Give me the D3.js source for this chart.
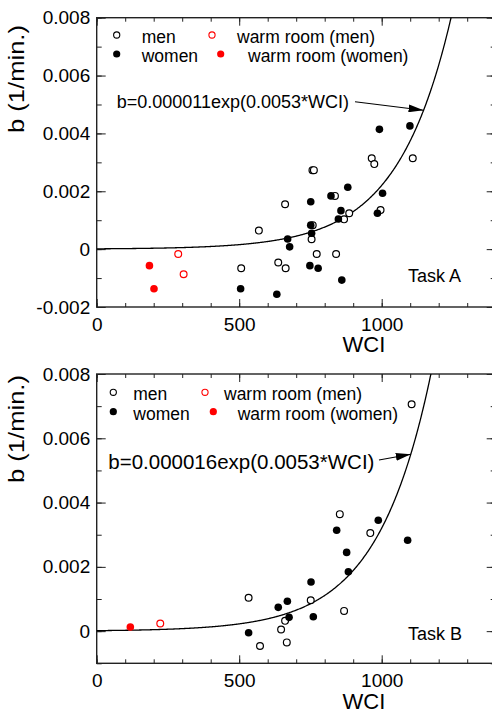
<!DOCTYPE html>
<html><head><meta charset="utf-8">
<script src="https://cdn.jsdelivr.net/npm/d3@7"></script>
<style>
body{margin:0;background:#fff}
svg{display:block}
text{font-family:"Liberation Sans",Arial,Helvetica,sans-serif;fill:#000}
</style>
</head><body>
<svg id="c" width="492" height="711"></svg>
<script>
// ---------- data ----------
const xMajorTicks = [0, 500, 1000];
const xTickLabels = ["0", "500", "1000"];
const yMajorTicksA = [-0.002, 0, 0.002, 0.004, 0.006, 0.008];
const yTickLabelsA = ["-0.002", "0", "0.002", "0.004", "0.006", "0.008"];
const yMajorTicksB = [0, 0.002, 0.004, 0.006, 0.008];
const yTickLabelsB = ["0", "0.002", "0.004", "0.006", "0.008"];

const legendLabels = ["men", "women", "warm room (men)", "warm room (women)"];

const taskA_men = [[569,0.00064],[507,-0.00066],[637,-0.00046],[663,-0.00066],[757,0.00273],[762,0.00273],
  [661,0.00155],[836,0.00184],[868,0.00103],[886,0.00124],[758,0.00083],[754,0.00034],[772,-0.00017],
  [840,-0.00017],[965,0.00314],[974,0.00294],[1109,0.00314],[996,0.00135]];
const taskA_women = [[505,-0.00137],[632,-0.00156],[670,0.00035],[677,0.00008],[751,0.00164],[822,0.00184],
  [881,0.00214],[857,0.00133],[848,0.00104],[751,0.00083],[754,0.00055],[748,-0.00057],[777,-0.00066],
  [860,-0.00107],[992,0.00414],[1099,0.00426],[1003,0.00193],[985,0.00124]];
const taskA_warmMen = [[286,-0.00017],[305,-0.00087]];
const taskA_warmWomen = [[185,-0.00057],[201,-0.00137]];

const taskB_men = [[533,0.00104],[573,-0.00046],[661,0.00032],[647,0.00005],[667,-0.00035],[751,0.00096],
  [868,0.00063],[853,0.00364],[960,0.00305],[1105,0.00706]];
const taskB_women = [[533,-0.00005],[637,0.00074],[669,0.00093],[675,0.00043],[752,0.00153],[760,0.00045],
  [883,0.00185],[877,0.00245],[842,0.00314],[988,0.00345],[1091,0.00283]];
const taskB_warmMen = [[223,0.00024]];
const taskB_warmWomen = [[118,0.00013]];

// fitted model b = a*exp(k*WCI)
const fitA = {a: 0.000011, k: 0.0053, label: "b=0.000011exp(0.0053*WCI)", task: "Task A", arrowWCI: 1147};
const fitB = {a: 0.000016, k: 0.0053, label: "b=0.000016exp(0.0053*WCI)", task: "Task B", arrowWCI: 1102};

// ---------- drawing ----------
const svg = d3.select("#c");
const FONT = '"Liberation Sans",Arial,Helvetica,sans-serif';
const RED = "#ff0000";
svg.append("defs").append("marker")
  .attr("id","ah").attr("viewBox","0 0 10 10").attr("refX",10).attr("refY",5)
  .attr("markerWidth",15).attr("markerHeight",8).attr("markerUnits","userSpaceOnUse")
  .attr("orient","auto").attr("preserveAspectRatio","none")
  .append("path").attr("d","M0,0L10,5L0,10Z").attr("fill","#000");

function panel(cfg) {
  const x = d3.scaleLinear().domain([0, 1400]).range([96.7, 495.7]);
  const y = d3.scaleLinear().domain(cfg.yDomain).range([cfg.bottom, cfg.top]);
  const g = svg.append("g");
  const id = "clip" + cfg.id;
  svg.select("defs").append("clipPath").attr("id", id)
    .append("rect").attr("x", x(0)).attr("y", cfg.top).attr("width", x(1400) - x(0)).attr("height", cfg.bottom - cfg.top);

  const styleAxis = sel => {
    sel.select(".domain").remove();
    sel.selectAll("line").attr("stroke", "#222").attr("stroke-width", 1);
    sel.selectAll("text").attr("font-size", 19).attr("font-family", FONT).attr("fill", "#000");
  };
  const xMinor = d3.range(0, 1401, 100);
  const yMinor = d3.range(cfg.yDomain[0], cfg.yDomain[1] + 1e-9, 0.001);

  // bottom
  g.append("g").attr("transform", `translate(0,${cfg.bottom})`)
    .call(d3.axisBottom(x).tickValues(xMinor).tickSize(-4).tickFormat("")).call(styleAxis);
  g.append("g").attr("transform", `translate(0,${cfg.bottom})`)
    .call(d3.axisBottom(x).tickValues(xMajorTicks).tickSize(-8).tickPadding(cfg.xPad)
      .tickFormat((d, i) => xTickLabels[i])).call(styleAxis);
  // top
  g.append("g").attr("transform", `translate(0,${cfg.top})`)
    .call(d3.axisTop(x).tickValues(xMinor).tickSize(-4).tickFormat("")).call(styleAxis);
  g.append("g").attr("transform", `translate(0,${cfg.top})`)
    .call(d3.axisTop(x).tickValues(xMajorTicks).tickSize(-8).tickFormat("")).call(styleAxis);
  // left
  g.append("g").attr("transform", `translate(${x(0)},0)`)
    .call(d3.axisLeft(y).tickValues(yMinor).tickSize(-5).tickFormat("")).call(styleAxis);
  g.append("g").attr("transform", `translate(${x(0)},0)`)
    .call(d3.axisLeft(y).tickValues(cfg.yTicks).tickSize(-9).tickPadding(6.5)
      .tickFormat((d, i) => cfg.yLabels[i])).call(styleAxis);
  // right
  g.append("g").attr("transform", `translate(${x(1400)},0)`)
    .call(d3.axisRight(y).tickValues(yMinor).tickSize(-5).tickFormat("")).call(styleAxis);
  g.append("g").attr("transform", `translate(${x(1400)},0)`)
    .call(d3.axisRight(y).tickValues(cfg.yTicks).tickSize(-9).tickFormat("")).call(styleAxis);

  // frame
  g.append("rect").attr("x", x(0)).attr("y", cfg.top).attr("width", x(1400) - x(0))
    .attr("height", cfg.bottom - cfg.top).attr("fill", "none").attr("stroke", "#222").attr("stroke-width", 1.4);

  // fit curve
  const fit = cfg.fit;
  const xs = d3.range(0, 1400.1, 2);
  const line = d3.line().x(d => x(d)).y(d => y(fit.a * Math.exp(fit.k * d)));
  g.append("path").attr("d", line(xs)).attr("fill", "none").attr("stroke", "#000")
    .attr("stroke-width", 1.3).attr("clip-path", `url(#${id})`);

  // points
  const pts = g.append("g").attr("clip-path", `url(#${id})`);
  const draw = (data, color, filled) => {
    pts.selectAll(null).data(data).enter().append("circle")
      .attr("cx", d => x(d[0])).attr("cy", d => y(d[1]))
      .attr("r", filled ? 3.8 : 3.4)
      .attr("fill", filled ? color : "#fff")
      .attr("stroke", color).attr("stroke-width", filled ? 0 : 1.2);
  };
  draw(cfg.men, "#000", false);
  draw(cfg.women, "#000", true);
  draw(cfg.warmMen, RED, false);
  draw(cfg.warmWomen, RED, true);

  // legend
  const L = cfg.legend;
  const lg = g.append("g");
  const items = [
    {cx: L.c1, cy: L.r1, tx: L.t1, color: "#000", filled: false, label: legendLabels[0]},
    {cx: L.c1, cy: L.r2, tx: L.t1, color: "#000", filled: true, label: legendLabels[1]},
    {cx: L.c2, cy: L.r1, tx: L.t2, color: RED, filled: false, label: legendLabels[2]},
    {cx: L.c3, cy: L.r2, tx: L.t3, color: RED, filled: true, label: legendLabels[3]}
  ];
  items.forEach(it => {
    lg.append("circle").attr("cx", it.cx).attr("cy", it.cy).attr("r", it.filled ? 3.6 : 3.1)
      .attr("fill", it.filled ? it.color : "#fff").attr("stroke", it.color).attr("stroke-width", it.filled ? 0 : 1.1);
    lg.append("text").attr("x", it.tx).attr("y", it.cy + L.dy).attr("font-size", 17.5).text(it.label);
  });

  // annotation
  const ann = cfg.ann;
  g.append("text").attr("x", ann.x).attr("y", ann.y).attr("font-size", ann.fs).text(fit.label);
  const tipX = x(fit.arrowWCI), tipY = y(fit.a * Math.exp(fit.k * fit.arrowWCI));
  g.append("line").attr("x1", ann.ax).attr("y1", ann.ay).attr("x2", tipX).attr("y2", tipY)
    .attr("stroke", "#000").attr("stroke-width", 1.1).attr("marker-end", "url(#ah)");

  // task label
  g.append("text").attr("x", 408).attr("y", cfg.taskY).attr("font-size", 18).text(fit.task);

  // axis titles
  g.append("text").attr("x", cfg.wciX).attr("y", cfg.wciY).attr("text-anchor", "middle")
    .attr("font-size", 22).text("WCI");
  g.append("text").attr("transform", `translate(24,${cfg.ytY}) rotate(-90)`).attr("text-anchor", "middle")
    .attr("font-size", 22).attr("textLength", 108).attr("lengthAdjust", "spacingAndGlyphs").text("b (1/min.)");
}

panel({id: "A", top: 17.7, bottom: 307, yDomain: [-0.002, 0.008], yTicks: yMajorTicksA, yLabels: yTickLabelsA,
  xPad: 11, men: taskA_men, women: taskA_women, warmMen: taskA_warmMen, warmWomen: taskA_warmWomen, fit: fitA,
  legend: {c1: 116.7, c2: 212, c3: 220.7, t1: 141.7, t2: 237, t3: 248, r1: 35, r2: 54, dy: 8},
  ann: {x: 116.7, y: 108, ax: 355, ay: 101.7, fs: 18}, taskY: 282, wciX: 364, wciY: 352, ytY: 79});

panel({id: "B", top: 374, bottom: 663.3, yDomain: [-0.001, 0.008], yTicks: yMajorTicksB, yLabels: yTickLabelsB,
  xPad: 10, men: taskB_men, women: taskB_women, warmMen: taskB_warmMen, warmWomen: taskB_warmWomen, fit: fitB,
  legend: {c1: 113.3, c2: 205, c3: 213.3, t1: 133.3, t2: 224, t3: 237.7, r1: 392.3, r2: 411.7, dy: 8},
  ann: {x: 108.3, y: 469, ax: 379, ay: 460, fs: 20.5}, taskY: 640, wciX: 364, wciY: 709, ytY: 429});
</script>
</body></html>
